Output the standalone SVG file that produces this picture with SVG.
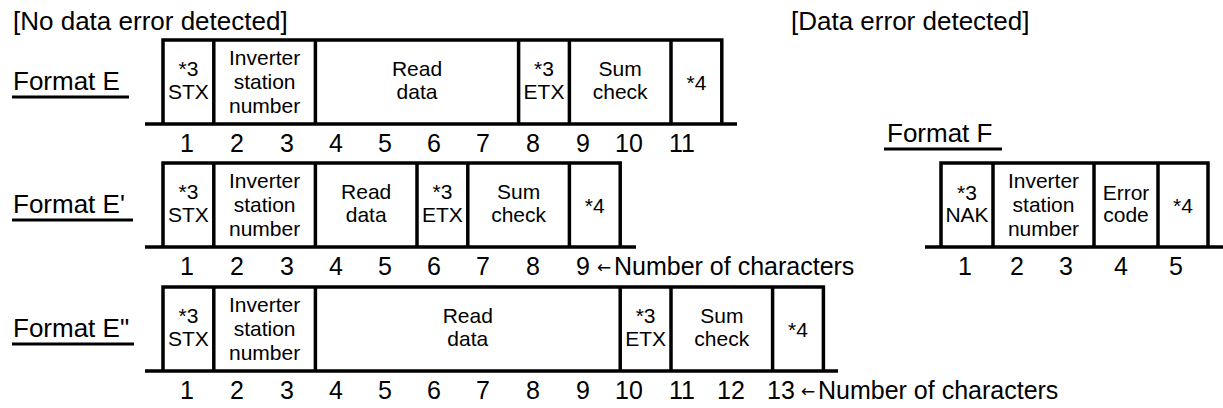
<svg xmlns="http://www.w3.org/2000/svg" width="1223" height="408" viewBox="0 0 1223 408">
<style>
text { font-family: "Liberation Sans", Arial, sans-serif; fill: #000; }
.t { font-size: 26px; }
.c { font-size: 21px; text-anchor: middle; }
.n { font-size: 25px; text-anchor: middle; }
.nl { font-size: 25px; }
.arr { font-family: "DejaVu Sans", sans-serif; font-size: 17px; }
.ln { stroke: #000; stroke-width: 3.5; fill: none; stroke-linejoin: miter; }
.ul { stroke: #000; stroke-width: 3; }
</style>
<rect width="1223" height="408" fill="#fff"/>
<g id="titles">
  <text class="t" x="13" y="30">[No data error detected]</text>
  <text class="t" x="791" y="30">[Data error detected]</text>
</g>

<g id="formatE">
  <text class="t" x="13" y="90">Format E</text>
  <line class="ul" x1="12" y1="97" x2="129" y2="97"/>
  <path class="ln" d="M163 124 V40 H721.8 V124 M213.8 40 V124 M315.4 40 V124 M518.6 40 V124 M569.4 40 V124 M671 40 V124 M145 124 H737"/>
  <text class="c" x="188.4" y="76">*3</text><text class="c" x="188.4" y="99">STX</text>
  <text class="c" x="264.6" y="65">Inverter</text><text class="c" x="264.6" y="89">station</text><text class="c" x="264.6" y="113">number</text>
  <text class="c" x="417" y="76">Read</text><text class="c" x="417" y="99">data</text>
  <text class="c" x="544" y="76">*3</text><text class="c" x="544" y="99">ETX</text>
  <text class="c" x="620.2" y="76">Sum</text><text class="c" x="620.2" y="99">check</text>
  <text class="c" x="696.4" y="90">*4</text>
  <text class="n" x="187" y="152">1</text><text class="n" x="237" y="152">2</text><text class="n" x="287" y="152">3</text>
  <text class="n" x="336" y="152">4</text><text class="n" x="385" y="152">5</text><text class="n" x="434" y="152">6</text>
  <text class="n" x="483" y="152">7</text><text class="n" x="533" y="152">8</text><text class="n" x="583" y="152">9</text>
  <text class="n" x="629" y="152">10</text><text class="n" x="682" y="152">11</text>
</g>

<g id="formatE1">
  <text class="t" x="13" y="213">Format E'</text>
  <line class="ul" x1="12" y1="220" x2="133" y2="220"/>
  <path class="ln" d="M163 247 V163 H620.2 V247 M213.8 163 V247 M315.4 163 V247 M417 163 V247 M467.8 163 V247 M569.4 163 V247 M145 247 H636"/>
  <text class="c" x="188.4" y="199">*3</text><text class="c" x="188.4" y="222">STX</text>
  <text class="c" x="264.6" y="188">Inverter</text><text class="c" x="264.6" y="212">station</text><text class="c" x="264.6" y="236">number</text>
  <text class="c" x="366.2" y="199">Read</text><text class="c" x="366.2" y="222">data</text>
  <text class="c" x="442.4" y="199">*3</text><text class="c" x="442.4" y="222">ETX</text>
  <text class="c" x="518.6" y="199">Sum</text><text class="c" x="518.6" y="222">check</text>
  <text class="c" x="594.8" y="213">*4</text>
  <text class="n" x="187" y="275">1</text><text class="n" x="237" y="275">2</text><text class="n" x="287" y="275">3</text>
  <text class="n" x="336" y="275">4</text><text class="n" x="385" y="275">5</text><text class="n" x="434" y="275">6</text>
  <text class="n" x="483" y="275">7</text><text class="n" x="533" y="275">8</text><text class="n" x="583" y="275">9</text>
  <text class="nl" x="597" y="275"><tspan class="arr" dy="-2">←</tspan><tspan x="614" dy="2">Number of characters</tspan></text>
</g>

<g id="formatE2">
  <text class="t" x="13" y="337">Format E"</text>
  <line class="ul" x1="12" y1="344" x2="134" y2="344"/>
  <path class="ln" d="M163 371 V287 H823.4 V371 M213.8 287 V371 M315.4 287 V371 M620.2 287 V371 M671 287 V371 M772.6 287 V371 M145 371 H838"/>
  <text class="c" x="188.4" y="323">*3</text><text class="c" x="188.4" y="346">STX</text>
  <text class="c" x="264.6" y="312">Inverter</text><text class="c" x="264.6" y="336">station</text><text class="c" x="264.6" y="360">number</text>
  <text class="c" x="467.8" y="323">Read</text><text class="c" x="467.8" y="346">data</text>
  <text class="c" x="645.6" y="323">*3</text><text class="c" x="645.6" y="346">ETX</text>
  <text class="c" x="721.8" y="323">Sum</text><text class="c" x="721.8" y="346">check</text>
  <text class="c" x="798" y="337">*4</text>
  <text class="n" x="187" y="399">1</text><text class="n" x="237" y="399">2</text><text class="n" x="287" y="399">3</text>
  <text class="n" x="336" y="399">4</text><text class="n" x="385" y="399">5</text><text class="n" x="434" y="399">6</text>
  <text class="n" x="483" y="399">7</text><text class="n" x="533" y="399">8</text><text class="n" x="583" y="399">9</text>
  <text class="n" x="629" y="399">10</text><text class="n" x="682" y="399">11</text><text class="n" x="731" y="399">12</text>
  <text class="n" x="781" y="399">13</text>
  <text class="nl" x="801" y="399"><tspan class="arr" dy="-2">←</tspan><tspan x="818" dy="2">Number of characters</tspan></text>
</g>

<g id="formatF">
  <text class="t" x="887" y="142">Format F</text>
  <line class="ul" x1="884" y1="149" x2="1002" y2="149"/>
  <path class="ln" d="M941 247 V163 H1208 V247 M993 163 V247 M1094 163 V247 M1158 163 V247 M925 247 H1223"/>
  <text class="c" x="967" y="200">*3</text><text class="c" x="967" y="222">NAK</text>
  <text class="c" x="1043.5" y="188">Inverter</text><text class="c" x="1043.5" y="212">station</text><text class="c" x="1043.5" y="236">number</text>
  <text class="c" x="1126" y="200">Error</text><text class="c" x="1126" y="222">code</text>
  <text class="c" x="1183" y="213">*4</text>
  <text class="n" x="965" y="275">1</text><text class="n" x="1017" y="275">2</text><text class="n" x="1066" y="275">3</text>
  <text class="n" x="1121" y="275">4</text><text class="n" x="1176" y="275">5</text>
</g>
</svg>
